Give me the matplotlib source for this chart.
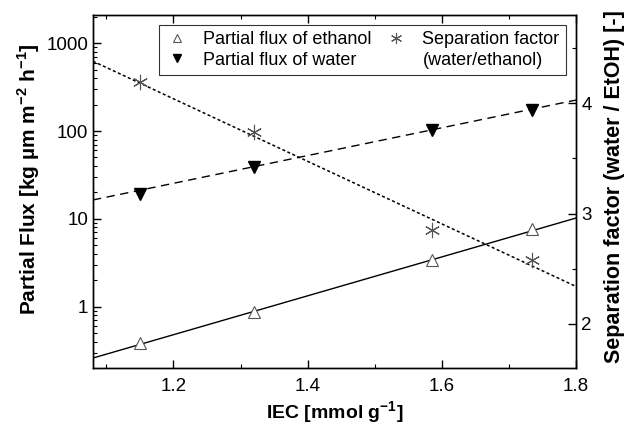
import numpy as np
import matplotlib.pyplot as plt
from matplotlib.lines import Line2D

plt.rcParams['font.family'] = ['Liberation Sans', 'DejaVu Sans']
plt.rcParams['mathtext.fontset'] = 'custom'
plt.rcParams['mathtext.rm'] = 'Liberation Sans'
plt.rcParams['mathtext.bf'] = 'Liberation Sans:bold'

# IEC of the membranes [mmol/g]
iec = [1.15, 1.32, 1.585, 1.735]
flux_etoh = [0.39, 0.88, 3.4, 7.7]
flux_water = [19.2, 39, 102, 174]
sep_factor = [4.19, 3.74, 2.85, 2.58]

# trend lines (end points)
trend_x = [1.08, 1.8]
trend_etoh = [0.26, 10.2]
trend_water = [16.4, 225]
trend_sep = [4.38, 2.34]

fig = plt.figure(figsize=(6.28, 4.25), dpi=100)
ax = fig.add_axes([0.148, 0.134, 0.769, 0.831])
ax2 = ax.twinx()

ax.plot(trend_x, trend_etoh, 'k-', lw=1.0)
ax.plot(trend_x, trend_water, 'k--', lw=1.0, dashes=(6, 4))
ax2.plot(trend_x, trend_sep, 'k:', lw=1.1, dashes=(2, 1.6))

ax.plot(iec, flux_etoh, ls='none', marker='^', ms=8, mfc='white', mec='#555555', mew=0.8)
ax.plot(iec, flux_water, ls='none', marker='v', ms=8, mfc='black', mec='black')
ax2.plot(iec, sep_factor, ls='none', marker=(6, 2, 0), ms=11, mec='#555555', mew=0.8)

ax.set_yscale('log')
ax.set_xlim(1.08, 1.8)
ax.set_ylim(0.2, 2100)
ax2.set_ylim(1.6, 4.8)

ax.set_xticks([1.2, 1.4, 1.6, 1.8])
ax.set_xticks([1.1, 1.3, 1.5, 1.7], minor=True)
ax.set_yticks([1, 10, 100, 1000])
ax.set_yticklabels(['1', '10', '100', '1000'])
ax2.set_yticks([2, 3, 4])
ax2.set_yticks([2.5, 3.5, 4.5], minor=True)

for a in (ax, ax2):
    a.tick_params(which='major', direction='in', length=6, width=1, labelsize=13.5)
    a.tick_params(which='minor', direction='in', length=3, width=0.8)
    for s in a.spines.values():
        s.set_linewidth(1.0)
ax.tick_params(which='both', top=True)
ax.tick_params(axis='x', pad=7)
ax2.tick_params(axis='y', pad=4)

ax.set_xlabel(r'IEC [mmol g$^{\mathbf{-1}}$]', fontsize=14, fontweight='bold', labelpad=3)
ax.set_ylabel(r'Partial Flux [kg µm m$^{\mathbf{-2}}$ h$^{\mathbf{-1}}$]', fontsize=15, fontweight='bold', labelpad=3)
ax2.set_ylabel('Separation factor (water / EtOH) [-]', fontsize=15.5, fontweight='bold', labelpad=9)
ax.yaxis.label.set_y(0.535)
ax2.yaxis.label.set_y(0.515)

handles = [
    Line2D([], [], ls='none', marker='^', ms=6, mfc='white', mec='#555555', mew=0.8),
    Line2D([], [], ls='none', marker='v', ms=6, mfc='black', mec='black'),
    Line2D([], [], ls='none', marker=(6, 2, 0), ms=8, mec='#555555', mew=0.8),
    Line2D([], [], ls='none'),
]
labels = ['Partial flux of ethanol', 'Partial flux of water',
          'Separation factor', '(water/ethanol)']
leg = ax2.legend(handles, labels, ncol=2, loc='upper left', bbox_to_anchor=(0.137, 0.972),
                 fontsize=13, frameon=True, fancybox=False, edgecolor='black',
                 handlelength=1.3, handletextpad=0.8, columnspacing=0.7,
                 labelspacing=0.2, borderpad=0.35, borderaxespad=0)
leg.get_frame().set_linewidth(0.8)

fig.savefig('out.png', dpi=100)
